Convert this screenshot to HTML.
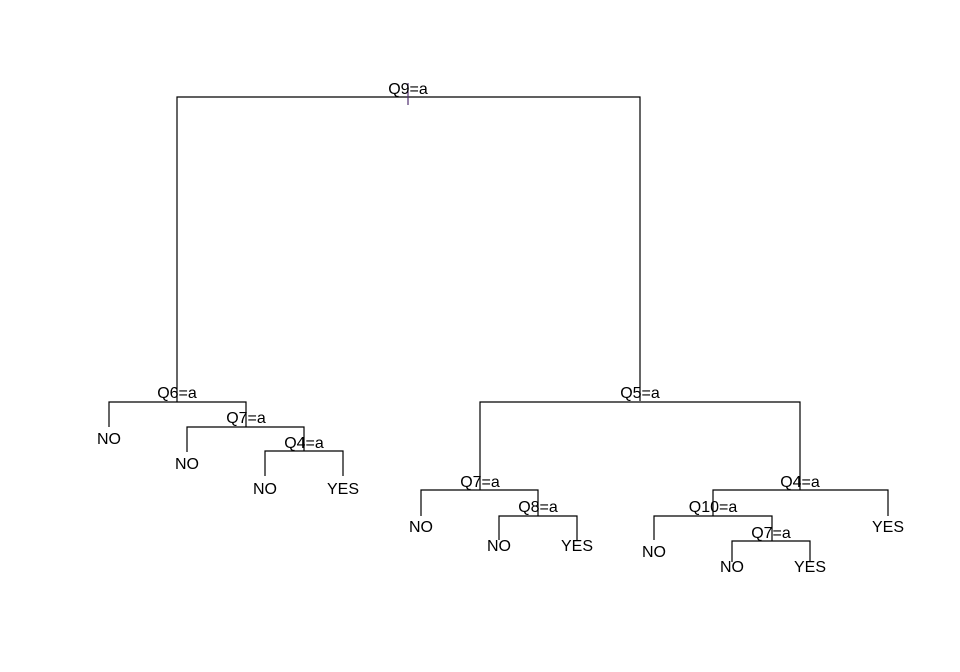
<!DOCTYPE html>
<html><head><meta charset="utf-8"><style>
html,body{margin:0;padding:0;background:#fff;}
svg{display:block;}
text{font-family:"Liberation Sans",Arial,sans-serif;font-size:16px;fill:#000;text-anchor:middle;}
line,polyline{stroke:#000;stroke-width:1.2;fill:none;}
</style></head><body>
<svg width="960" height="672" viewBox="0 0 960 672">
<!-- root -->
<polyline points="177,401 177,97 640,97 640,401"/>
<line x1="408" y1="83" x2="408" y2="105" style="stroke:#503070"/>
<text x="408" y="94">Q9=a</text>
<!-- left subtree -->
<polyline points="109,427 109,402 246,402 246,427"/>
<line x1="177" y1="401" x2="177" y2="402"/>
<text x="177" y="398">Q6=a</text>
<text x="109" y="444">NO</text>
<polyline points="187,452 187,427 304,427 304,451"/>
<text x="246" y="423">Q7=a</text>
<text x="187" y="469">NO</text>
<polyline points="265,476 265,451 343,451 343,476"/>
<text x="304" y="448">Q4=a</text>
<text x="265" y="494">NO</text>
<text x="343" y="494">YES</text>
<!-- right subtree -->
<polyline points="480,490 480,402 800,402 800,490"/>
<text x="640" y="398">Q5=a</text>
<polyline points="421,516 421,490 538,490 538,516"/>
<text x="480" y="487">Q7=a</text>
<text x="421" y="532">NO</text>
<polyline points="499,540 499,516 577,516 577,540"/>
<text x="538" y="512">Q8=a</text>
<text x="499" y="551">NO</text>
<text x="577" y="551">YES</text>
<polyline points="713,516 713,490 888,490 888,516"/>
<text x="800" y="487">Q4=a</text>
<text x="888" y="532">YES</text>
<polyline points="654,540 654,516 772,516 772,541"/>
<text x="713" y="512">Q10=a</text>
<text x="654" y="557">NO</text>
<polyline points="732,562 732,541 810,541 810,562"/>
<text x="771" y="538">Q7=a</text>
<text x="732" y="572">NO</text>
<text x="810" y="572">YES</text>
</svg>
</body></html>
